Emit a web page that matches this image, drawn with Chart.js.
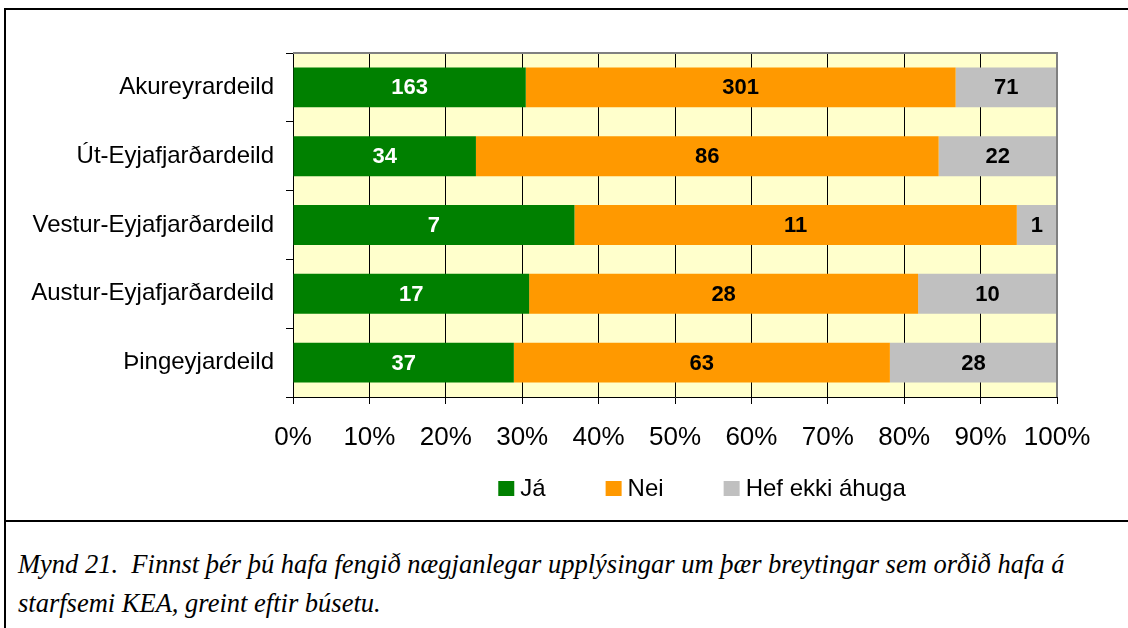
<!DOCTYPE html>
<html>
<head>
<meta charset="utf-8">
<script src="https://cdn.jsdelivr.net/npm/chart.js@4"></script>
<style>
body { margin: 0; background: #fff; width: 1128px; height: 628px; overflow: hidden; position: relative; }
#chart { position: absolute; left: 0; top: 0; }
.line { position: absolute; background: #000; }
#caption { position: absolute; left: 18px; top: 545px; font: italic 26.5px "Liberation Serif", "Times New Roman", serif; line-height: 39px; color: #000; white-space: nowrap; }
</style>
</head>
<body>
<canvas id="chart" width="1128" height="519"></canvas>
<div class="line" style="left:4px;top:8px;width:1124px;height:2px"></div>
<div class="line" style="left:4px;top:8px;width:2px;height:620px"></div>
<div class="line" style="left:4px;top:520px;width:1124px;height:2px"></div>
<div id="caption">Mynd 21.&nbsp; Finnst þér þú hafa fengið nægjanlegar upplýsingar um þær breytingar sem orðið hafa á<br>starfsemi KEA, greint eftir búsetu.</div>

<script>
// gögnin - fjöldi svara eftir deildum
const deildir = ['Akureyrardeild', 'Út-Eyjafjarðardeild', 'Vestur-Eyjafjarðardeild', 'Austur-Eyjafjarðardeild', 'Þingeyjardeild'];
const ja = [163, 34, 7, 17, 37];
const nei = [301, 86, 11, 28, 63];
const ekkiAhuga = [71, 22, 1, 10, 28];
const svor = ['Já', 'Nei', 'Hef ekki áhuga'];
const xLabels = ['0%', '10%', '20%', '30%', '40%', '50%', '60%', '70%', '80%', '90%', '100%'];

const litir = ['#008000', '#FF9900', '#C0C0C0'];
const textalitir = ['#FFFFFF', '#000000', '#000000'];
const FONT = '"Liberation Sans", Arial, sans-serif';

// 100% staflað - hlutfall af heild hverrar deildar
const heild = deildir.map((d, i) => ja[i] + nei[i] + ekkiAhuga[i]);
const hlutfall = arr => arr.map((v, i) => v / heild[i] * 100);
const fjoldi = [ja, nei, ekkiAhuga];

// gulur bakgrunnur á teiknisvæðinu
const bakgrunnur = {
    id: 'bakgrunnur',
    beforeDraw(chart) {
        const a = chart.chartArea, ctx = chart.ctx;
        ctx.save();
        ctx.fillStyle = '#FFFFCC';
        ctx.fillRect(a.left, a.top, a.right - a.left, a.bottom - a.top);
        ctx.restore();
    },
    afterDraw(chart) {
        // grár rammi efst og hægra megin
        const a = chart.chartArea, ctx = chart.ctx;
        ctx.save();
        ctx.strokeStyle = '#808080';
        ctx.lineWidth = 2;
        ctx.beginPath();
        ctx.moveTo(a.left, a.top);
        ctx.lineTo(a.right, a.top);
        ctx.lineTo(a.right, a.bottom);
        ctx.stroke();
        ctx.restore();
    }
};

// tölur inni í súlunum
const merkingar = {
    id: 'merkingar',
    afterDatasetsDraw(chart) {
        const ctx = chart.ctx;
        ctx.save();
        ctx.font = 'bold 22px ' + FONT;
        ctx.textAlign = 'center';
        ctx.textBaseline = 'middle';
        chart.data.datasets.forEach((ds, di) => {
            chart.getDatasetMeta(di).data.forEach((bar, i) => {
                ctx.fillStyle = textalitir[di];
                ctx.fillText(String(fjoldi[di][i]), (bar.x + bar.base) / 2, bar.y + 1);
            });
        });
        ctx.restore();
    }
};

// skýringar neðst
const skyringar = {
    id: 'skyringar',
    afterDraw(chart) {
        const ctx = chart.ctx, a = chart.chartArea;
        const box = 16, bil = 6, milli = 60, y = 488;
        ctx.save();
        ctx.font = '24px ' + FONT;
        ctx.textBaseline = 'middle';
        const br = svor.map(t => ctx.measureText(t).width);
        let samtals = milli * (svor.length - 1);
        br.forEach(w => samtals += box + bil + w);
        let x = (a.left + a.right) / 2 + 27 - samtals / 2;
        svor.forEach((t, i) => {
            ctx.fillStyle = litir[i];
            ctx.fillRect(x, y - 7, box, 15);
            ctx.fillStyle = '#000';
            ctx.fillText(t, x + box + bil, y + 1);
            x += box + bil + br[i] + milli;
        });
        ctx.restore();
    }
};

new Chart(document.getElementById('chart'), {
    type: 'bar',
    data: {
        labels: deildir,
        datasets: [
            { label: svor[0], data: hlutfall(ja), backgroundColor: litir[0] },
            { label: svor[1], data: hlutfall(nei), backgroundColor: litir[1] },
            { label: svor[2], data: hlutfall(ekkiAhuga), backgroundColor: litir[2] }
        ]
    },
    options: {
        indexAxis: 'y',
        responsive: false,
        animation: false,
        devicePixelRatio: 1,
        layout: { padding: { top: 53, right: 71, bottom: 0, left: 0 } },
        datasets: { bar: { barPercentage: 0.58, categoryPercentage: 1, borderWidth: 0 } },
        plugins: {
            legend: { display: false },
            tooltip: { enabled: false }
        },
        scales: {
            x: {
                stacked: true,
                min: 0,
                max: 100,
                afterFit(scale) { scale.height = 122; },
                ticks: {
                    stepSize: 10,
                    autoSkip: false,
                    maxRotation: 0,
                    padding: 18,
                    color: '#000',
                    font: { family: FONT, size: 26 },
                    callback: (v, i) => xLabels[i]
                },
                grid: { color: '#000', lineWidth: 1, tickLength: 7 },
                border: { color: '#000', width: 1 }
            },
            y: {
                stacked: true,
                afterFit(scale) { scale.width = 293; },
                ticks: {
                    padding: 12,
                    color: '#000',
                    font: { family: FONT, size: 24 }
                },
                grid: { drawOnChartArea: false, offset: true, tickLength: 7, color: '#000' },
                border: { color: '#000', width: 1 }
            }
        }
    },
    plugins: [bakgrunnur, merkingar, skyringar]
});
</script>
</body>
</html>
